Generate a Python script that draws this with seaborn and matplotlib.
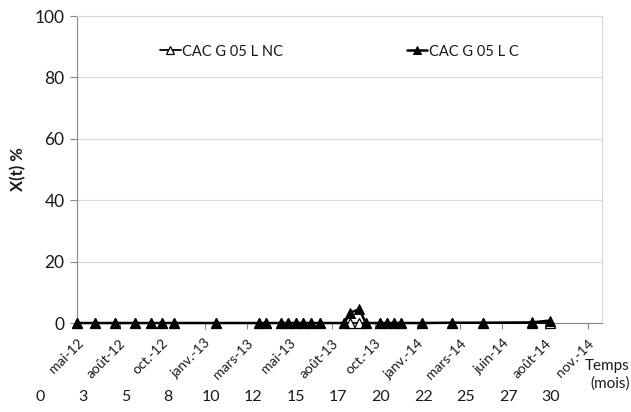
import matplotlib
matplotlib.use("Agg")
import matplotlib.pyplot as plt
import matplotlib.transforms as mtransforms
import seaborn as sns
import pandas as pd

#
# 01. Données
#
mois = [0, 1.08, 2.25, 3.43, 4.35, 5.0, 5.68, 8.18, 10.72, 11.08, 12.0, 12.39,
        12.88, 13.27, 13.76, 14.29, 15.72, 16.06, 16.6, 16.96, 17.78, 18.19,
        18.6, 19.02, 20.25, 22.06, 23.86, 26.74, 27.78]
x_nc = [0, 0, 0, 0, 0, 0, 0, 0, 0, 0, 0, 0, 0, 0, 0, 0, 0, 0, 0, 0, 0, 0,
        0, 0, 0, 0, 0, 0, 0]
x_c = [0, 0, 0, 0, 0, 0, 0, 0, 0, 0, 0, 0, 0, 0, 0, 0, 0, 3.4, 4.5, 0, 0, 0,
       0, 0, 0, 0.1, 0.1, 0.2, 0.8]

ticks_mois = [0, 2.5, 5, 7.5, 10, 12.5, 15, 17.5, 20, 22.5, 25, 27.5, 30]
ticks_dates = ["mai-12", "août-12", "oct.-12", "janv.-13", "mars-13", "mai-13",
               "août-13", "oct.-13", "janv.-14", "mars-14", "juin-14",
               "août-14", "nov.-14"]
ticks_nombres = ["0", "3", "5", "8", "10", "12", "15", "17", "20", "22", "25",
                 "27", "30"]

df = pd.DataFrame({"mois": mois, "NC": x_nc, "C": x_c})

#
# 02. Thème
#
sns.set_theme(style="white")
plt.rcParams["font.family"] = ["Lato", "DejaVu Sans"]
couleur_texte = "#1a1a1a"

#
# 03. Graphique
#
fig, ax = plt.subplots(figsize=(6.31, 4.12), dpi=100)
fig.subplots_adjust(left=0.122, right=0.954, top=0.961, bottom=0.216)

sns.lineplot(data=df, x="mois", y="NC", ax=ax, color="black", linewidth=1.3,
             marker="^", markersize=7, markerfacecolor="white",
             markeredgecolor="black", markeredgewidth=0.9,
             label="CAC G 05 L NC")
sns.lineplot(data=df, x="mois", y="C", ax=ax, color="black", linewidth=1.8,
             marker="^", markersize=7, markerfacecolor="black",
             markeredgecolor="black", label="CAC G 05 L C")

# Marqueurs entiers sur l'axe (pas de découpe)
for ligne in ax.lines:
    ligne.set_clip_on(False)
    ligne.set_zorder(5)

#
# 04. Axes
#
ax.set_xlim(0, 30.85)
ax.set_ylim(0, 100)
ax.set_yticks([0, 20, 40, 60, 80, 100])
ax.yaxis.grid(True, color="#d9d9d9", linewidth=0.8)
ax.set_axisbelow(True)

ax.set_xticks(ticks_mois)
ax.set_xticklabels(ticks_dates, rotation=45, ha="right", rotation_mode="anchor",
                   fontsize=10, color=couleur_texte)
# petit décalage vers la gauche des dates, comme dans Excel
decalage = mtransforms.ScaledTranslation(-3 / 72, 0, fig.dpi_scale_trans)
for etiquette in ax.get_xticklabels():
    etiquette.set_transform(etiquette.get_transform() + decalage)
ax.tick_params(axis="x", length=4, width=0.8, color="#888888", pad=6,
               bottom=True)
ax.tick_params(axis="y", length=5, width=0.8, color="#888888", pad=4,
               labelsize=12.5, labelcolor=couleur_texte, left=True)

ax.set_xlabel("")
ax.set_ylabel("X(t) %", fontsize=12, fontweight="bold", color=couleur_texte,
              labelpad=6)

for cote in ["top", "right"]:
    ax.spines[cote].set_color("#d9d9d9")
    ax.spines[cote].set_linewidth(0.8)
for cote in ["left", "bottom"]:
    ax.spines[cote].set_color("#888888")
    ax.spines[cote].set_linewidth(0.8)

# Nombres de mois sous les dates
trans = mtransforms.blended_transform_factory(ax.transData, fig.transFigure)
for pos, txt in zip(ticks_mois, ticks_nombres):
    ax.text(pos - 2.15, 0.036, txt, transform=trans, ha="center", va="center",
            fontsize=11.5, color=couleur_texte, clip_on=False)
fig.text(0.998, 0.09, "Temps\n(mois)", ha="right", va="center",
         fontsize=11, color=couleur_texte, linespacing=1.35)

#
# 05. Légende
#
ax.legend(loc="upper center", bbox_to_anchor=(0.5, 0.95), ncol=2, frameon=False,
          fontsize=10.5, handlelength=1.4, handletextpad=0.1, columnspacing=8.5,
          labelcolor=couleur_texte, markerscale=0.8)

plt.savefig("out.png", dpi=100)
